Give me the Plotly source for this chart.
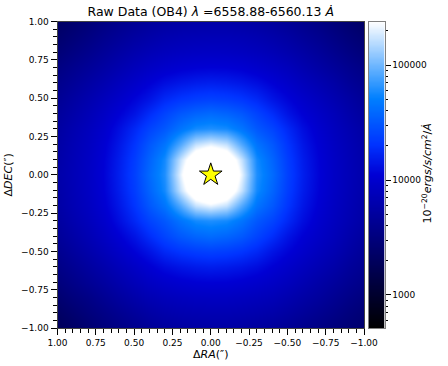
import numpy as np
import plotly.graph_objects as go

# Axis coordinates of the sampled flux grid (arcsec)
ra_offsets = [1.0, 0.9, 0.8, 0.7, 0.6, 0.5, 0.4, 0.3, 0.2, 0.1, 0.0,
              -0.1, -0.2, -0.3, -0.4, -0.5, -0.6, -0.7, -0.8, -0.9, -1.0]
dec_offsets = [1.0, 0.9, 0.8, 0.7, 0.6, 0.5, 0.4, 0.3, 0.2, 0.1, 0.0,
               -0.1, -0.2, -0.3, -0.4, -0.5, -0.6, -0.7, -0.8, -0.9, -1.0]

# Flux in thousands of 10^-20 ergs/s/cm^2/A
flux_k = [
 [2.2,2.5,2.9,3.4,3.9,4.4,4.9,5.3,5.6,5.8,5.9,5.9,5.7,5.4,5.0,4.5,4.0,3.5,3.0,2.6,2.2],
 [2.5,2.9,3.4,4.0,4.6,5.3,5.9,6.5,6.9,7.1,7.2,7.2,7.0,6.6,6.0,5.4,4.7,4.1,3.5,3.0,2.6],
 [2.9,3.4,4.0,4.7,5.5,6.4,7.2,7.9,8.4,8.7,8.8,8.7,8.4,7.9,7.2,6.4,5.6,4.8,4.1,3.5,3.0],
 [3.4,4.0,4.7,5.5,6.5,7.7,8.8,9.8,10.6,11.1,11.3,11.2,10.7,9.8,8.8,7.8,6.6,5.6,4.8,4.1,3.5],
 [3.9,4.6,5.5,6.5,7.8,9.3,11.0,13.0,14.5,15.5,16.0,15.5,14.5,13.0,11.0,9.4,7.9,6.7,5.7,4.7,4.0],
 [4.4,5.3,6.4,7.7,9.3,11.5,14.0,18.0,21.0,23.0,24.0,23.0,21.0,18.0,14.0,11.5,9.5,7.9,6.6,5.5,4.5],
 [4.9,5.9,7.2,8.8,11.0,14.0,19.0,25.0,32.0,37.0,40.0,37.0,32.0,25.0,19.0,14.0,11.0,9.0,7.5,6.1,5.0],
 [5.3,6.5,7.9,9.8,13.0,18.0,25.0,32.0,45.0,58.0,62.0,58.0,45.0,32.0,25.0,18.0,13.0,10.0,8.1,6.7,5.5],
 [5.6,6.9,8.4,10.6,14.5,21.0,32.0,45.0,85.0,170,210,170,85.0,45.0,32.0,21.0,14.5,10.8,8.6,7.1,5.8],
 [5.8,7.1,8.7,11.1,15.5,23.0,37.0,58.0,170,400,600,400,170,58.0,37.0,23.0,15.5,11.3,8.9,7.3,6.0],
 [6.0,7.2,8.8,11.3,16.0,24.0,40.0,62.0,210,600,800,600,210,62.0,40.0,24.0,16.0,11.5,9.0,7.4,6.1],
 [5.8,7.1,8.7,11.1,15.5,23.0,37.0,58.0,170,400,600,400,170,58.0,37.0,23.0,15.5,11.3,8.9,7.3,6.0],
 [5.6,6.9,8.4,10.6,14.5,21.0,32.0,45.0,85.0,170,210,170,85.0,45.0,32.0,21.0,14.5,10.8,8.6,7.1,5.8],
 [5.2,6.4,7.8,9.7,13.0,18.0,25.0,32.0,45.0,58.0,62.0,58.0,45.0,32.0,25.0,18.0,13.0,10.0,8.2,6.8,5.6],
 [4.7,5.7,7.0,8.6,10.8,14.0,19.0,25.0,32.0,37.0,40.0,37.0,32.0,25.0,19.0,14.0,11.0,9.1,7.6,6.2,5.1],
 [4.1,5.0,6.1,7.4,9.1,11.3,14.0,18.0,21.0,23.0,24.0,23.0,21.0,18.0,14.0,11.5,9.6,8.0,6.8,5.6,4.6],
 [3.6,4.3,5.2,6.2,7.5,9.0,10.8,12.8,14.3,15.3,15.8,15.3,14.4,13.0,11.0,9.5,8.1,6.9,5.9,4.9,4.2],
 [3.1,3.7,4.4,5.2,6.2,7.4,8.6,9.6,10.4,10.9,11.1,11.0,10.5,9.8,8.9,7.9,6.8,5.8,5.0,4.3,3.7],
 [2.6,3.1,3.6,4.3,5.1,6.0,6.9,7.6,8.1,8.4,8.5,8.5,8.2,7.8,7.3,6.5,5.7,5.0,4.3,3.7,3.2],
 [2.2,2.6,3.1,3.6,4.2,4.9,5.6,6.2,6.6,6.8,6.9,6.9,6.7,6.4,6.0,5.4,4.8,4.2,3.7,3.2,2.8],
 [1.9,2.2,2.6,3.1,3.5,4.0,4.6,5.0,5.3,5.5,5.6,5.6,5.4,5.1,4.8,4.4,3.9,3.5,3.1,2.8,2.5],
]

colorbar_ticks = [1000, 10000, 100000]
colorbar_labels = ["1000", "10000", "100000"]
colorbar_minor = [600, 700, 800, 900, 2000, 3000, 4000, 5000, 6000, 7000, 8000, 9000,
                  20000, 30000, 40000, 50000, 60000, 70000, 80000, 90000, 200000]
flux_min, flux_max = 515, 240000
star_ra, star_dec = [0.0], [0.0]
title_text = "Raw Data (OB4) <i>λ</i> =6558.88-6560.13 <i>Ȧ</i>"

FONT = "DejaVu Sans"
W, H = 448, 366
L, R, T, B = 57.5, 364.0, 21.5, 328.0
CB_L, CB_R = 368.5, 384.5

scale = [[0.0, "#000000"], [0.5, "#0000d4"], [0.6, "#0033ff"], [0.75, "#0080ff"], [1.0, "#ffffff"]]
zmin, zmax = np.log10(flux_min), np.log10(flux_max)
levels = np.logspace(zmin, zmax, 256)

fig = go.Figure()
fig.add_trace(go.Heatmap(
    x=ra_offsets, y=dec_offsets, z=np.log10(np.array(flux_k) * 1000.0),
    zmin=zmin, zmax=zmax, zsmooth="best", colorscale=scale, showscale=False, hoverinfo="skip",
))
fig.add_trace(go.Scatter(
    x=star_ra, y=star_dec, mode="markers", hoverinfo="skip", showlegend=False,
    marker=dict(symbol="star", size=17, color="#ffff00", line=dict(color="black", width=1)),
))
# Colour bar: a one-column heatmap on its own log axis
fig.add_trace(go.Heatmap(
    x=[0, 1], y=levels, z=[[v, v] for v in np.log10(levels)], xaxis="x2", yaxis="y2",
    zmin=zmin, zmax=zmax, zsmooth="best", colorscale=scale, showscale=False, hoverinfo="skip",
))

axis_common = dict(
    showgrid=False, zeroline=False, showline=True, linecolor="#444444", linewidth=1, mirror=True,
    ticks="outside", ticklen=6, tickwidth=1, tickcolor="black", automargin=False,
    tickfont=dict(family=FONT, size=9, color="black"),
    tickmode="array", tickvals=[-1, -0.75, -0.5, -0.25, 0, 0.25, 0.5, 0.75, 1],
    ticktext=["−1.00", "−0.75", "−0.50", "−0.25", "0.00", "0.25", "0.50", "0.75", "1.00"],
    minor=dict(ticks="outside", ticklen=3.5, tickwidth=1, tickcolor="black",
               tickmode="array",
               tickvals=[round(-1 + 0.05 * i, 2) for i in range(41) if i % 5 != 0]),
)
fig.update_layout(
    width=W, height=H, autosize=False, paper_bgcolor="white", plot_bgcolor="white",
    margin=dict(l=0, r=0, t=0, b=0), showlegend=False,
    font=dict(family=FONT, color="black"),
    xaxis=dict(axis_common, domain=[L / W, R / W], range=[1, -1], anchor="y",
               title=dict(text="Δ<i>RA</i>(″)", font=dict(family=FONT, size=11), standoff=3)),
    yaxis=dict(axis_common, domain=[1 - B / H, 1 - T / H], range=[-1, 1], anchor="x",
               title=dict(text="Δ<i>DEC</i>(″)", font=dict(family=FONT, size=11), standoff=6)),
    xaxis2=dict(domain=[CB_L / W, CB_R / W], range=[0, 1], anchor="y2", showticklabels=False, ticks="",
                showgrid=False, zeroline=False, showline=True, linecolor="#808080", linewidth=1, mirror=True,
                automargin=False),
    yaxis2=dict(domain=[1 - B / H, 1 - T / H], type="log", anchor="x2", side="right",
                range=[zmin, zmax], showgrid=False, zeroline=False, automargin=False,
                showline=True, linecolor="#808080", linewidth=1, mirror=True,
                ticks="outside", ticklen=5, tickwidth=1, tickcolor="black",
                tickmode="array", tickvals=colorbar_ticks, ticktext=colorbar_labels,
                tickfont=dict(family=FONT, size=9, color="black"),
                minor=dict(ticks="outside", ticklen=2.5, tickwidth=1, tickcolor="black",
                           tickmode="array", tickvals=colorbar_minor)),
    title=dict(text=title_text, x=(L + R) / 2 / W, xanchor="center", y=1 - 11.5 / H, yanchor="middle",
               font=dict(family=FONT, size=12.5, color="black")),
    annotations=[dict(text="10<sup>−20</sup><i>ergs/s/cm</i><sup>2</sup>/<i>Ȧ</i>", textangle=-90,
                      xref="paper", yref="paper", x=436 / W, y=1 - 174 / H,
                      showarrow=False, font=dict(family=FONT, size=11, color="black"))],
)
fig.write_html("out.html", config={"displayModeBar": False},
               post_script="document.body.style.margin='0';")
